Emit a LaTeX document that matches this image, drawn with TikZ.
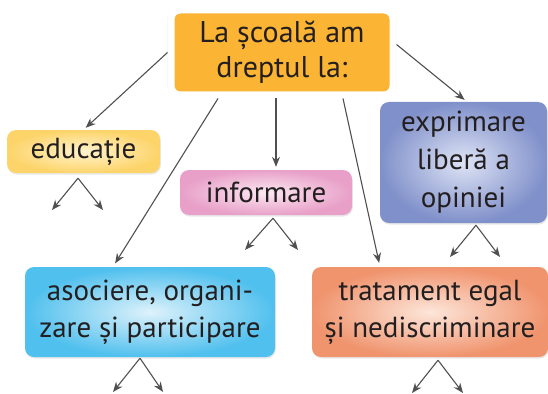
\documentclass[tikz,border=0pt]{standalone}
\usepackage{fontspec}
\setmainfont{PT Sans}
\usetikzlibrary{arrows.meta,shadows}
\definecolor{txt}{HTML}{231F20}
\definecolor{arrc}{HTML}{505050}
\definecolor{orangeb}{HTML}{FBB433}
\definecolor{yelO}{RGB}{253,212,106}
\definecolor{yelI}{RGB}{255,244,205}
\definecolor{pinkO}{RGB}{232,160,200}
\definecolor{pinkI}{RGB}{252,232,242}
\definecolor{bluO}{RGB}{128,144,202}
\definecolor{bluI}{RGB}{222,228,245}
\definecolor{cyaO}{RGB}{80,192,238}
\definecolor{cyaI}{RGB}{222,242,251}
\definecolor{salO}{RGB}{240,148,110}
\definecolor{salI}{RGB}{253,230,218}
\tikzset{
  boxbase/.style={rounded corners=9pt, align=center, text=txt,
    font=\fontsize{29}{37}\selectfont, inner sep=0pt,
    drop shadow={opacity=0.18, shadow xshift=0.8pt, shadow yshift=-1.5pt}},
  arr/.style={draw=arrc, line width=1.1pt, -{Stealth[length=10pt,width=8pt]}},
}
\begin{document}
\begin{tikzpicture}[x=1pt,y=-1pt]
\useasboundingbox (0,0) rectangle (548,393);
% nodes
\node[boxbase, fill=orangeb, draw=white, line width=7pt, minimum width=222pt, minimum height=85pt,
      font=\fontsize{30}{35}\selectfont,
      drop shadow={opacity=0.25, shadow xshift=0pt, shadow yshift=0pt, shadow scale=1.03}] (top) at (282,52.5) {La școală am\\dreptul la:};
\node[boxbase, inner color=yelI, outer color=yelO,
      minimum width=153pt, minimum height=43pt] (edu) at (83.5,151.5) {educație};
\node[boxbase, inner color=pinkI, outer color=pinkO,
      minimum width=172pt, minimum height=45pt] (inf) at (266,192.5) {informare};
\node[boxbase, inner color=bluI, outer color=bluO,
      minimum width=167pt, minimum height=121pt, font=\fontsize{29}{38}\selectfont] (expr) at (463.5,162.5) {exprimare\\liberă a\\opiniei};
\node[boxbase, inner color=cyaI, outer color=cyaO,
      minimum width=250pt, minimum height=90pt] (asoc) at (150,312) {asociere, organi-\\zare și participare};
\node[boxbase, inner color=salI, outer color=salO,
      minimum width=236pt, minimum height=90pt] (trat) at (430,312) {tratament egal\\și nediscriminare};
% free ends
\coordinate (e1) at (52,210);  \coordinate (e2) at (103,210);
\coordinate (i1) at (245,250); \coordinate (i2) at (298,250);
\coordinate (x1) at (450,257); \coordinate (x2) at (500,257);
\coordinate (a1) at (113,392); \coordinate (a2) at (163,392);
\coordinate (t1) at (412,393); \coordinate (t2) at (463,393);
% main connectors
\draw[arr, shorten >=3pt] (top.west) -- (edu.north);
\draw[arr, shorten >=4pt] ([xshift=-64pt]top.south) -- ([xshift=-37pt]asoc.north);
\draw[arr, shorten >=3pt] ([xshift=-6pt]top.south) -- ([xshift=10pt]inf.north);
\draw[arr, shorten >=4pt] ([xshift=61pt]top.south) -- ([xshift=-50pt]trat.north);
\draw[arr, shorten >=3pt] (top.4) -- ([xshift=3.5pt]expr.north);
% sub connectors
\draw[arr] ([xshift=-5.5pt]edu.south) ++(0,5) -- (e1);
\draw[arr] ([xshift=-5.5pt]edu.south) ++(0,5) -- (e2);
\draw[arr] ([xshift=7pt]inf.south) ++(0,3) -- (i1);
\draw[arr] ([xshift=7pt]inf.south) ++(0,3) -- (i2);
\draw[arr] ([xshift=12.5pt]expr.south) ++(0,2) -- (x1);
\draw[arr] ([xshift=12.5pt]expr.south) ++(0,2) -- (x2);
\draw[arr] ([xshift=-10pt]asoc.south) ++(0,1) -- (a1);
\draw[arr] ([xshift=-10pt]asoc.south) ++(0,1) -- (a2);
\draw[arr] ([xshift=8pt]trat.south) ++(0,3) -- (t1);
\draw[arr] ([xshift=8pt]trat.south) ++(0,3) -- (t2);
\end{tikzpicture}
\end{document}
